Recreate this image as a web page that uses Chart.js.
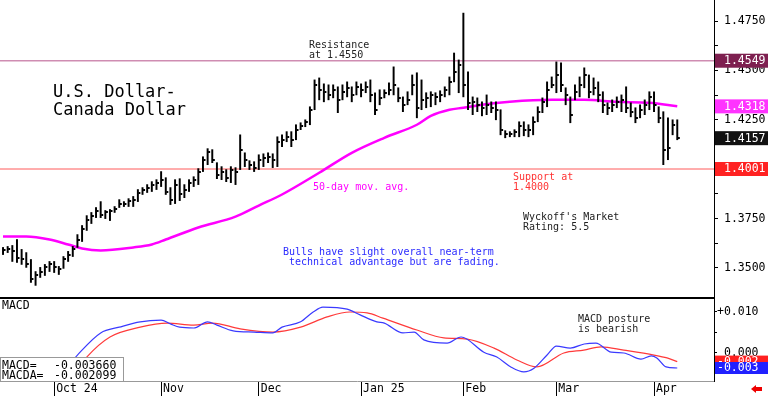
<!DOCTYPE html>
<html>
<head>
<meta charset="utf-8">
<script src="https://cdn.jsdelivr.net/npm/chart.js@4.4.1/dist/chart.umd.min.js"></script>
<style>
body { margin: 0; background: #fff; }
#wrap { position: relative; width: 768px; height: 396px; overflow: hidden; font-family: 'DejaVu Sans Mono', monospace; }
canvas { position: absolute; left: 0; }
.note { position: absolute; font-size: 10px; line-height: 10.5px; white-space: pre; }
.title { position: absolute; left: 53px; top: 82px; font-size: 17px; line-height: 18px; white-space: pre; color: #000; }
.small { position: absolute; font-size: 11.5px; line-height: 12px; white-space: pre; color: #000; }
#info { position: absolute; left: 0; top: 357px; width: 122px; height: 23px; background: #fff; border: 1px solid #999; }
</style>
</head>
<body>
<div id="wrap">
  <canvas id="main" width="768" height="299" style="top:0"></canvas>
  <canvas id="macd" width="768" height="97" style="top:299px"></canvas>

  <div class="title">U.S. Dollar-
Canada Dollar</div>
  <div class="note" style="left:309px;top:39.5px;color:#222">Resistance
at 1.4550</div>
  <div class="note" style="left:313px;top:181.5px;color:#ff00ff">50-day mov. avg.</div>
  <div class="note" style="left:513px;top:171.5px;color:#ff3333">Support at
1.4000</div>
  <div class="note" style="left:523px;top:211.5px;color:#222">Wyckoff's Market
Rating: 5.5</div>
  <div class="note" style="left:283px;top:246.5px;color:#2b2bff">Bulls have slight overall near-term
 technical advantage but are fading.</div>
  <div class="note" style="left:578px;top:313.5px;color:#222">MACD posture
is bearish</div>
  <div class="small" style="left:2px;top:299px">MACD</div>
  <div id="info">
    <div class="small" style="left:1px;top:1px">MACD=</div>
    <div class="small" style="left:53px;top:1px" id="macdTxt"></div>
    <div class="small" style="left:1px;top:11px">MACDA=</div>
    <div class="small" style="left:53px;top:11px" id="sigTxt"></div>
  </div>
  <div style="position:absolute;left:751px;top:385px;width:0;height:0;border-top:4px solid transparent;border-bottom:4px solid transparent;border-right:5px solid #e00"></div>
  <div style="position:absolute;left:755px;top:387px;width:7px;height:4px;background:#e00"></div>
</div>
<script>
// daily bars, Sep 16 2024 .. Apr 8 2025 (index = trading day)
const highs = [
  1.3604,1.3609,1.3614,1.3644,1.3594,1.3578,1.3543,1.3482,1.3503,1.3518,
  1.3533,1.3533,1.3508,1.3558,1.3584,1.3609,1.3669,1.3715,1.3765,1.3781,
  1.3806,1.3836,1.3791,1.3796,1.3811,1.3846,1.3836,1.3851,1.3862,1.3897,
  1.3907,1.3922,1.3937,1.3947,1.3988,1.3957,1.3907,1.3947,1.3952,1.3922,
  1.3947,1.3962,1.4003,1.4063,1.4104,1.4099,1.4033,1.4013,1.3998,1.4013,
  1.4008,1.4174,1.4083,1.4043,1.4038,1.4073,1.4078,1.4083,1.4078,1.4164,
  1.4174,1.4190,1.4190,1.4225,1.4235,1.4250,1.4316,1.4452,1.4462,1.4432,
  1.4427,1.4427,1.4417,1.4427,1.4442,1.4417,1.4442,1.4432,1.4442,1.4452,
  1.4387,1.4402,1.4402,1.4437,1.4518,1.4412,1.4366,1.4392,1.4477,1.4488,
  1.4452,1.4387,1.4392,1.4387,1.4397,1.4417,1.4467,1.4588,1.4553,1.4790,
  1.4493,1.4366,1.4361,1.4341,1.4376,1.4341,1.4341,1.4301,1.4195,1.4190,
  1.4200,1.4240,1.4240,1.4225,1.4265,1.4316,1.4361,1.4442,1.4467,1.4543,
  1.4538,1.4412,1.4366,1.4427,1.4467,1.4513,1.4477,1.4462,1.4442,1.4392,
  1.4336,1.4351,1.4366,1.4376,1.4417,1.4336,1.4311,1.4326,1.4351,1.4392,
  1.4392,1.4316,1.4291,1.4260,1.4250,1.4250
];
const lows = [
  1.3568,1.3578,1.3533,1.3528,1.3518,1.3503,1.3427,1.3412,1.3452,1.3462,
  1.3482,1.3477,1.3467,1.3498,1.3533,1.3558,1.3604,1.3634,1.3690,1.3725,
  1.3755,1.3755,1.3750,1.3740,1.3781,1.3806,1.3811,1.3811,1.3811,1.3836,
  1.3872,1.3882,1.3887,1.3897,1.3912,1.3872,1.3821,1.3826,1.3841,1.3856,
  1.3887,1.3912,1.3922,1.3988,1.4023,1.4033,1.3952,1.3947,1.3937,1.3932,
  1.3922,1.3998,1.4013,1.3998,1.3988,1.3998,1.4013,1.4033,1.4008,1.4013,
  1.4114,1.4139,1.4114,1.4149,1.4200,1.4215,1.4225,1.4301,1.4351,1.4341,
  1.4351,1.4361,1.4286,1.4351,1.4366,1.4341,1.4376,1.4366,1.4387,1.4341,
  1.4276,1.4326,1.4361,1.4376,1.4376,1.4341,1.4291,1.4326,1.4376,1.4260,
  1.4301,1.4311,1.4316,1.4326,1.4341,1.4366,1.4376,1.4442,1.4387,1.4366,
  1.4301,1.4276,1.4291,1.4270,1.4276,1.4286,1.4250,1.4174,1.4159,1.4164,
  1.4164,1.4164,1.4169,1.4164,1.4174,1.4240,1.4286,1.4316,1.4412,1.4387,
  1.4392,1.4326,1.4235,1.4351,1.4366,1.4412,1.4361,1.4376,1.4341,1.4286,
  1.4276,1.4291,1.4311,1.4291,1.4286,1.4265,1.4235,1.4260,1.4276,1.4301,
  1.4291,1.4235,1.4023,1.4048,1.4174,1.4149
];
const closes = [
  1.3589,1.3594,1.3584,1.3553,1.3543,1.3518,1.3442,1.3467,1.3482,1.3503,
  1.3518,1.3503,1.3493,1.3543,1.3568,1.3594,1.3644,1.3695,1.3745,1.3765,
  1.3786,1.3770,1.3781,1.3786,1.3801,1.3826,1.3826,1.3841,1.3846,1.3882,
  1.3897,1.3907,1.3922,1.3932,1.3947,1.3887,1.3846,1.3922,1.3872,1.3897,
  1.3932,1.3947,1.3988,1.4048,1.4088,1.4048,1.3972,1.3988,1.3957,1.3998,
  1.3988,1.4099,1.4048,1.4023,1.4008,1.4048,1.4058,1.4063,1.4048,1.4139,
  1.4149,1.4164,1.4149,1.4200,1.4220,1.4240,1.4301,1.4427,1.4402,1.4392,
  1.4376,1.4402,1.4351,1.4392,1.4412,1.4376,1.4417,1.4402,1.4417,1.4376,
  1.4301,1.4361,1.4387,1.4402,1.4427,1.4361,1.4326,1.4351,1.4427,1.4311,
  1.4351,1.4361,1.4376,1.4366,1.4376,1.4402,1.4442,1.4493,1.4528,1.4427,
  1.4336,1.4341,1.4326,1.4311,1.4326,1.4311,1.4301,1.4200,1.4179,1.4179,
  1.4190,1.4220,1.4200,1.4200,1.4240,1.4291,1.4341,1.4402,1.4427,1.4477,
  1.4427,1.4376,1.4276,1.4392,1.4427,1.4477,1.4392,1.4412,1.4376,1.4326,
  1.4311,1.4326,1.4341,1.4351,1.4311,1.4291,1.4260,1.4301,1.4326,1.4366,
  1.4326,1.4260,1.4099,1.4109,1.4225,1.4157
];

// 50-day moving average, read at sample bars
const maX    = [0, 5, 10, 14, 17, 21, 28, 32, 35, 42, 50, 55, 60, 68, 75, 82, 89, 92, 96, 99, 103, 109, 118, 125, 132, 139, 145];
const maVals = [1.3659,1.3659,1.3644,1.3619,1.3599,1.3589,1.3604,1.3619,1.3644,1.3705,1.3760,1.3816,1.3872,1.3982,1.4083,1.4159,1.4225,1.4270,1.4301,1.4311,1.4326,1.4341,1.4351,1.4351,1.4341,1.4336,1.4318];

// MACD and its average, read at sample bars
const macdX    = [13, 16, 21, 25, 29.5, 34, 36, 38, 41, 44, 46, 49.5, 54, 58, 60, 64, 66.7, 68.8, 74, 76.8, 80.4, 82, 86, 88.4, 90.5, 95.5, 98.5, 103.4, 106.2, 109.2, 112, 114.2, 117, 119, 122, 125, 127.5, 130.8, 133.5, 137.2, 139.4, 140.6, 142.6, 145];
const macdVals = [-0.0045,-0.0005,0.0049,0.0063,0.0076,0.0080,0.0071,0.0063,0.0061,0.0076,0.0068,0.0054,0.0051,0.0049,0.0063,0.0076,0.0100,0.0112,0.0107,0.0093,0.0076,0.0073,0.0049,0.0051,0.0032,0.0024,0.0039,0.0002,-0.0010,-0.0034,-0.0046,-0.0037,-0.0005,0.0017,0.0012,0.0022,0.0024,0.0002,0.0000,-0.0015,-0.0007,-0.0012,-0.0034,-0.003660];
const signalX    = [16, 18, 23, 29.5, 35.3, 41, 45, 51, 58, 64, 69.7, 74.6, 78.3, 81.7, 89, 94.8, 99.8, 105.6, 110.5, 114.8, 120.6, 124.9, 128.6, 133.5, 140, 142.8, 145];
const signalVals = [-0.0040,-0.0010,0.0039,0.0063,0.0073,0.0068,0.0073,0.0059,0.0051,0.0063,0.0088,0.0100,0.0098,0.0085,0.0056,0.0037,0.0034,0.0012,-0.0017,-0.0034,0.0000,0.0007,0.0015,0.0007,-0.0005,-0.0012,-0.002099];

const resistance = 1.4549;
const support = 1.4001;
const priceTicks = [1.35, 1.3625, 1.375, 1.3875, 1.4, 1.4125, 1.425, 1.4375, 1.45, 1.4625, 1.475];
const macdTicks = [-0.005, 0, 0.005, 0.01];
const monthIdx = [11, 34, 55, 77, 99, 119, 140];
const monthLabels = ['Oct 24', 'Nov', 'Dec', 'Jan 25', 'Feb', 'Mar', 'Apr'];

const xMin = -0.65, xMax = 152.9;
const FONT = 'DejaVu Sans Mono';

Chart.defaults.font.family = FONT;

document.getElementById('macdTxt').textContent = macdVals[macdVals.length - 1].toFixed(6);
document.getElementById('sigTxt').textContent = signalVals[signalVals.length - 1].toFixed(6);

// close tick, drawn to the right of each bar
const tick = document.createElement('canvas');
tick.width = 9; tick.height = 2;
const tctx = tick.getContext('2d');
tctx.fillStyle = '#000';
tctx.fillRect(5, 0, 2, 2);

const frame = {
  id: 'frame',
  afterDraw(c) {
    const { ctx, chartArea: a } = c;
    ctx.save();
    ctx.fillStyle = '#000';
    ctx.fillRect(0, a.bottom, a.right + 1, 2);
    ctx.restore();
  }
};

function tagPlugin(values, colors, fmt, textDx, h) {
  return {
    id: 'tags',
    afterDraw(c) {
      const { ctx, chartArea: a } = c;
      const ys = c.scales.y;
      ctx.save();
      ctx.font = '11.5px "' + FONT + '"';
      ctx.textBaseline = 'middle';
      values.forEach((v, i) => {
        const py = ys.getPixelForValue(v);
        ctx.fillStyle = colors[i];
        ctx.fillRect(a.right + 1, py - h / 2, c.width - a.right - 1, h);
        ctx.fillStyle = '#fff';
        ctx.fillText(fmt(v), a.right + textDx, py + 0.5);
      });
      ctx.restore();
    }
  };
}

const priceTags = [resistance, maVals[maVals.length - 1], closes[closes.length - 1], support];
const priceTagColors = ['#7e2050', '#ff33ff', '#111111', '#ff2222'];

new Chart(document.getElementById('main'), {
  type: 'bar',
  data: {
    datasets: [
      {
        type: 'bar',
        data: highs.map((h, i) => ({ x: i, y: [lows[i], h] })),
        backgroundColor: '#000',
        barThickness: 1.3,
        order: 0
      },
      {
        type: 'scatter',
        data: closes.map((c, i) => ({ x: i, y: c })),
        pointStyle: tick,
        pointRadius: 3,
        order: 0
      },
      {
        type: 'line',
        data: maX.map((x, i) => ({ x: x, y: maVals[i] })),
        borderColor: '#ff00ff',
        borderWidth: 2.5,
        pointRadius: 0,
        cubicInterpolationMode: 'monotone',
        order: 1
      },
      {
        type: 'line',
        data: [{ x: xMin, y: resistance }, { x: xMax, y: resistance }],
        borderColor: '#cf8db2',
        borderWidth: 1.5,
        pointRadius: 0,
        order: 2
      },
      {
        type: 'line',
        data: [{ x: xMin, y: support }, { x: xMax, y: support }],
        borderColor: '#ff5a5a',
        borderWidth: 1,
        pointRadius: 0,
        order: 2
      }
    ]
  },
  options: {
    responsive: false,
    animation: false,
    events: [],
    layout: { padding: { bottom: 2 }, autoPadding: false },
    plugins: { legend: { display: false }, tooltip: { enabled: false } },
    scales: {
      x: { type: 'linear', min: xMin, max: xMax, offset: false, display: false },
      y: {
        position: 'right',
        min: 1.33532,
        max: 1.48563,
        afterBuildTicks: s => { s.ticks = priceTicks.map(v => ({ value: v })); },
        afterFit: s => { s.width = 54; s.paddingTop = 0; s.paddingBottom = 0; },
        grid: { drawOnChartArea: false, tickLength: 4, color: '#000' },
        border: { display: true, color: '#000', width: 1 },
        ticks: {
          autoSkip: false,
          padding: 6,
          color: '#000',
          font: { size: 11.5 },
          callback: v => (Math.round(v * 10000) % 250 === 0 ? v.toFixed(4) : '')
        }
      }
    }
  },
  plugins: [frame, tagPlugin(priceTags, priceTagColors, v => v.toFixed(4), 10, 14)]
});

const macdTags = [signalVals[signalVals.length - 1], macdVals[macdVals.length - 1]];
const macdTagColors = ['#ff2020', '#2020ff'];

new Chart(document.getElementById('macd'), {
  type: 'line',
  data: {
    datasets: [
      {
        data: macdX.map((x, i) => ({ x: x, y: macdVals[i] })),
        borderColor: '#3a3aff',
        borderWidth: 1.2,
        pointRadius: 0,
        cubicInterpolationMode: 'monotone'
      },
      {
        data: signalX.map((x, i) => ({ x: x, y: signalVals[i] })),
        borderColor: '#ff3a3a',
        borderWidth: 1.2,
        pointRadius: 0,
        cubicInterpolationMode: 'monotone'
      }
    ]
  },
  options: {
    responsive: false,
    animation: false,
    events: [],
    layout: { autoPadding: false },
    plugins: { legend: { display: false }, tooltip: { enabled: false } },
    scales: {
      x: {
        type: 'linear',
        min: xMin,
        max: xMax,
        afterBuildTicks: s => { s.ticks = monthIdx.map(v => ({ value: v })); },
        afterFit: s => { s.height = 15; s.paddingLeft = 0; s.paddingRight = 0; },
        grid: { drawOnChartArea: false, tickLength: 15, color: '#000' },
        border: { display: true, color: '#999' },
        ticks: {
          autoSkip: false,
          maxRotation: 0,
          align: 'start',
          padding: -14,
          labelOffset: 2,
          color: '#000',
          font: { size: 11.5 },
          callback: (v, i) => monthLabels[i]
        }
      },
      y: {
        position: 'right',
        min: -0.00683,
        max: 0.01317,
        afterBuildTicks: s => { s.ticks = macdTicks.map(v => ({ value: v })); },
        afterFit: s => { s.width = 54; s.paddingTop = 0; s.paddingBottom = 0; },
        grid: { drawOnChartArea: false, tickLength: 3, color: '#000' },
        border: { display: true, color: '#000' },
        ticks: {
          autoSkip: false,
          padding: 0,
          color: '#000',
          font: { size: 11.5 },
          callback: v => (Math.round(v * 1000) % 10 === 0 ? (v > 0 ? '+' : ' ') + v.toFixed(3) : '')
        }
      }
    }
  },
  plugins: [tagPlugin(macdTags, macdTagColors, v => (Math.trunc(v * 1000) / 1000).toFixed(3), 3, 12)]
});
</script>
</body>
</html>
